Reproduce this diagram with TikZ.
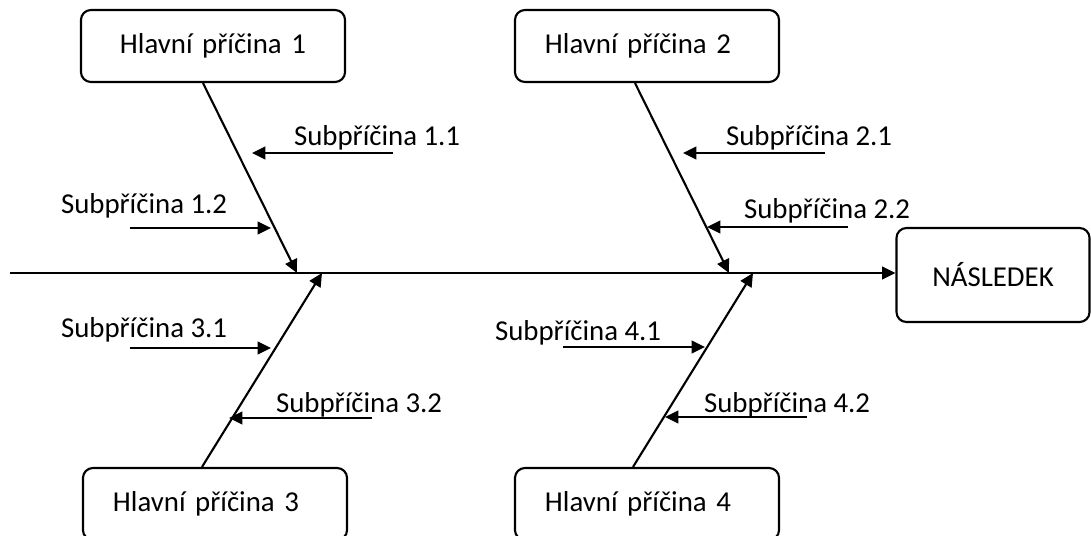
\documentclass[tikz,border=0pt]{standalone}
\usepackage{fontspec}
\setmainfont{Carlito}
\usetikzlibrary{arrows.meta}
\begin{document}
\begin{tikzpicture}[x=0.025cm,y=-0.025cm,line width=1.5pt,
  font=\fontsize{20.5}{24}\selectfont,
  hlavni/.style={draw,rounded corners=0.25cm,minimum width=6.6cm,minimum height=1.8cm,
    text width=5.1cm,inner xsep=0.75cm,align=left},
  vysledek/.style={draw,rounded corners=0.25cm,minimum width=4.825cm,minimum height=2.35cm},
  sub/.style={anchor=base west,inner sep=0pt},
  sipka/.style={-{Triangle[length=9.5pt,width=9pt]}}]
\useasboundingbox (0,0) rectangle (1091,535);
\clip (0,0) rectangle (1091,535);
\node[hlavni,align=center] (hp1) at (213,46) {Hlavní příčina 1};
\node[hlavni] (hp2) at (647,46) {Hlavní příčina 2};
\node[hlavni] (hp3) at (215,504) {Hlavní příčina 3};
\node[hlavni] (hp4) at (647,504) {Hlavní příčina 4};
\node[vysledek] (nasledek) at (993,275) {NÁSLEDEK};
\coordinate (zacatek) at (10,273);
\draw[sipka] (zacatek) -- (zacatek -| nasledek.west);
\coordinate (k1) at (297,273);
\coordinate (k2) at (729,273);
\coordinate (k3) at (322,273);
\coordinate (k4) at (753,273);
\draw[sipka] ([xshift=-0.25cm]hp1.south) -- (k1);
\draw[sipka] ([xshift=-0.3cm]hp2.south) -- (k2);
\draw[sipka] ([xshift=-0.325cm]hp3.north) -- (k3);
\draw[sipka] ([xshift=-0.35cm]hp4.north) -- (k4);
\node[sub] (s11) at (293,145) {Subpříčina 1.1};
\node[sub] (s12) at (60,213) {Subpříčina 1.2};
\node[sub] (s21) at (725,145) {Subpříčina 2.1};
\node[sub] (s22) at (743,218) {Subpříčina 2.2};
\node[sub] (s31) at (60,337) {Subpříčina 3.1};
\node[sub] (s32) at (275,412) {Subpříčina 3.2};
\node[sub] (s41) at (494,340) {Subpříčina 4.1};
\node[sub] (s42) at (703,412) {Subpříčina 4.2};
\coordinate (a11) at (393,153); \coordinate (t11) at (252,153);
\coordinate (a12) at (130,228); \coordinate (t12) at (271,228);
\coordinate (a21) at (825,153); \coordinate (t21) at (683,153);
\coordinate (a22) at (848,227); \coordinate (t22) at (707,227);
\coordinate (a31) at (130,348); \coordinate (t31) at (271,348);
\coordinate (a32) at (372,418); \coordinate (t32) at (229,418);
\coordinate (a41) at (563,347); \coordinate (t41) at (705,347);
\coordinate (a42) at (807,417); \coordinate (t42) at (665,417);
\foreach \i in {11,12,21,22,31,32,41,42}
  \draw[sipka] (a\i) -- (t\i);
\end{tikzpicture}
\end{document}
